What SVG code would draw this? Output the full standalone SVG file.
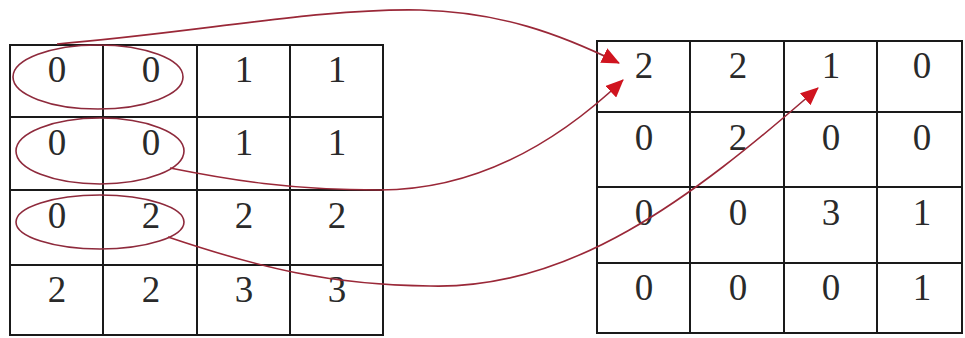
<svg xmlns="http://www.w3.org/2000/svg" width="965" height="338" viewBox="0 0 965 338">
  <style>
    .grid { fill: #ffffff; stroke: #1a1a1a; stroke-width: 2; }
    .ln { stroke: #1a1a1a; stroke-width: 2; }
    .num { font-family: "Liberation Serif", "Times New Roman", serif; font-size: 37px; fill: #2a2a2a; text-anchor: middle; }
    .ell { fill: none; stroke: #8e2a3c; stroke-width: 1.6; }
    .conn { fill: none; stroke: #9a2838; stroke-width: 1.6; }
  </style>
  <defs>
    <marker id="arrow" markerUnits="userSpaceOnUse" markerWidth="18" markerHeight="16" viewBox="0 0 18 16" refX="17" refY="8" orient="auto">
      <path d="M0,0 L18,8 L0,16 Z" fill="#d0141f"/>
    </marker>
  </defs>
  <rect width="965" height="338" fill="#ffffff"/>

  <g id="left-grid">
    <rect class="grid" x="10" y="45" width="373" height="290"/>
    <line class="ln" x1="103" y1="45" x2="103" y2="335"/>
    <line class="ln" x1="197" y1="45" x2="197" y2="335"/>
    <line class="ln" x1="290" y1="45" x2="290" y2="335"/>
    <line class="ln" x1="10" y1="117" x2="383" y2="117"/>
    <line class="ln" x1="10" y1="190" x2="383" y2="190"/>
    <line class="ln" x1="10" y1="265" x2="383" y2="265"/>
    <text class="num" x="57" y="82">0</text>
    <text class="num" x="151" y="82">0</text>
    <text class="num" x="244" y="82">1</text>
    <text class="num" x="337" y="82">1</text>
    <text class="num" x="57" y="155">0</text>
    <text class="num" x="151" y="155">0</text>
    <text class="num" x="244" y="155">1</text>
    <text class="num" x="337" y="155">1</text>
    <text class="num" x="57" y="228">0</text>
    <text class="num" x="151" y="228">2</text>
    <text class="num" x="244" y="228">2</text>
    <text class="num" x="337" y="228">2</text>
    <text class="num" x="57" y="302">2</text>
    <text class="num" x="151" y="302">2</text>
    <text class="num" x="244" y="302">3</text>
    <text class="num" x="337" y="302">3</text>
  </g>

  <g id="right-grid">
    <rect class="grid" x="597" y="41" width="365" height="292"/>
    <line class="ln" x1="690" y1="41" x2="690" y2="333"/>
    <line class="ln" x1="784" y1="41" x2="784" y2="333"/>
    <line class="ln" x1="877" y1="41" x2="877" y2="333"/>
    <line class="ln" x1="597" y1="112" x2="962" y2="112"/>
    <line class="ln" x1="597" y1="187" x2="962" y2="187"/>
    <line class="ln" x1="597" y1="263" x2="962" y2="263"/>
    <text class="num" x="644" y="78">2</text>
    <text class="num" x="738" y="78">2</text>
    <text class="num" x="831" y="78">1</text>
    <text class="num" x="922" y="78">0</text>
    <text class="num" x="644" y="150">0</text>
    <text class="num" x="738" y="150">2</text>
    <text class="num" x="831" y="150">0</text>
    <text class="num" x="922" y="150">0</text>
    <text class="num" x="644" y="225">0</text>
    <text class="num" x="738" y="225">0</text>
    <text class="num" x="831" y="225">3</text>
    <text class="num" x="922" y="225">1</text>
    <text class="num" x="644" y="300">0</text>
    <text class="num" x="738" y="300">0</text>
    <text class="num" x="831" y="300">0</text>
    <text class="num" x="922" y="300">1</text>
  </g>

  <g id="ellipse-row1"><ellipse class="ell" cx="98" cy="77" rx="85" ry="32"/></g>
  <g id="ellipse-row2"><ellipse class="ell" cx="100" cy="151" rx="84" ry="33"/></g>
  <g id="ellipse-row3"><ellipse class="ell" cx="100" cy="222" rx="84" ry="27"/></g>

  <g id="connectors">
    <path class="conn" d="M57,44 C 200,32 320,8 420,10 C 500,12 560,34 619,63" marker-end="url(#arrow)"/>
    <path class="conn" d="M170,168 C 230,180 290,190 380,190 C 480,190 560,140 623,80" marker-end="url(#arrow)"/>
    <path class="conn" d="M168,237 C 260,268 330,285 430,286 C 570,290 690,200 818,88" marker-end="url(#arrow)"/>
  </g>
</svg>
